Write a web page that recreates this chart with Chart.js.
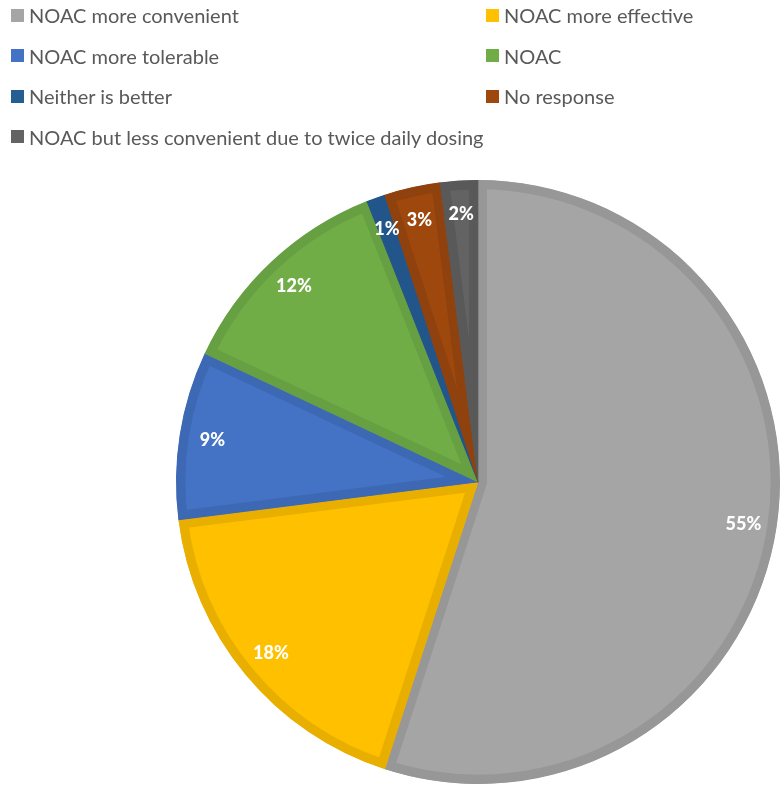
<!DOCTYPE html>
<html lang="en">
<head>
    <meta charset="UTF-8">
    <title>NOAC preference</title>
    <script src="https://cdn.jsdelivr.net/npm/chart.js"></script>
    <style>
        html, body { margin: 0; padding: 0; background: #fff; }
        body { width: 780px; height: 788px; position: relative; overflow: hidden; font-family: Lato, "Open Sans", sans-serif; }
        #legend { position: absolute; left: 0; top: 0; width: 780px; }
        .item { position: absolute; height: 24px; display: flex; align-items: center; color: #595959; font-size: 20px; white-space: nowrap; }
        .box { width: 13px; height: 13px; margin-right: 5px; }
        #pieChart { position: absolute; left: 0; top: 0; }
    </style>
</head>
<body>
    <canvas id="pieChart" width="780" height="788"></canvas>
    <div id="legend"></div>

    <script>
        const labels = [
            'NOAC more convenient',
            'NOAC more effective',
            'NOAC more tolerable',
            'NOAC',
            'Neither is better',
            'No response',
            'NOAC but less convenient due to twice daily dosing'
        ];
        const values = [55, 18, 9, 12, 1, 3, 2];
        const fillColors = ['#A5A5A5', '#FFC000', '#4472C4', '#70AD47', '#255E91', '#9E480E', '#636363'];
        const edgeColors = ['#979797', '#E8AF00', '#3D68B4', '#67A042', '#22568A', '#8F410E', '#595959'];

        // legend in two columns like the original
        const legend = document.getElementById('legend');
        labels.forEach((lab, i) => {
            const div = document.createElement('div');
            div.className = 'item';
            div.style.left = (i % 2 === 0 ? 11 : 486) + 'px';
            div.style.top = (3 + Math.floor(i / 2) * 40.5) + 'px';
            div.innerHTML = '<span class="box" style="background:' + fillColors[i] + '"></span>' + lab;
            legend.appendChild(div);
        });

        // white bold percent labels inside each slice
        const pctLabels = {
            id: 'pctLabels',
            afterDatasetsDraw(chart) {
                const ctx = chart.ctx;
                const meta = chart.getDatasetMeta(0);
                ctx.save();
                ctx.fillStyle = '#fff';
                ctx.font = '900 18px Lato, "Open Sans", sans-serif';
                ctx.textAlign = 'center';
                ctx.textBaseline = 'middle';
                meta.data.forEach((arc, i) => {
                    const p = arc.getProps(['x', 'y', 'startAngle', 'endAngle', 'outerRadius'], true);
                    const mid = (p.startAngle + p.endAngle) / 2;
                    const r = p.outerRadius * 0.89;
                    ctx.fillText(values[i] + '%', p.x + Math.cos(mid) * r, p.y + Math.sin(mid) * r);
                });
                ctx.restore();
            }
        };

        new Chart(document.getElementById('pieChart'), {
            type: 'pie',
            data: {
                labels: labels,
                datasets: [{
                    data: values,
                    backgroundColor: fillColors,
                    borderColor: edgeColors,
                    borderWidth: 9,
                    borderAlign: 'inner',
                    hoverOffset: 0,
                    offset: 0
                }]
            },
            options: {
                responsive: false,
                animation: false,
                devicePixelRatio: 1,
                radius: 302,
                layout: { padding: { left: 176, right: 0, top: 180, bottom: 4 } },
                plugins: { legend: { display: false }, tooltip: { enabled: false } }
            },
            plugins: [pctLabels]
        });
    </script>
</body>
</html>
